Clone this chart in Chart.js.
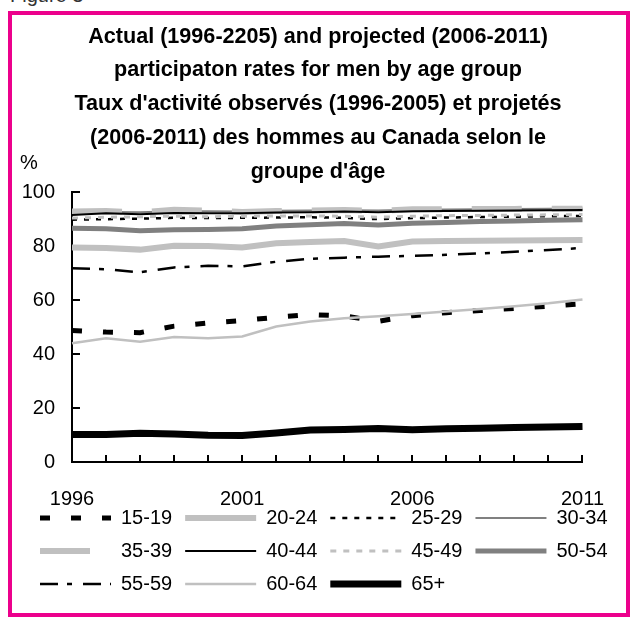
<!DOCTYPE html>
<html>
<head>
<meta charset="utf-8">
<script src="https://cdn.jsdelivr.net/npm/chart.js@4.4.1/dist/chart.umd.min.js"></script>
<style>
    html, body { margin: 0; padding: 0; background: #ffffff; }
    #page { position: relative; width: 636px; height: 622px; overflow: hidden; }
    #fig { position: absolute; left: 10px; top: -16px; font: 20px "Liberation Sans", Arial, sans-serif; color: #333; }
    #frame { position: absolute; left: 8px; top: 11px; width: 622px; height: 606px;
             box-sizing: border-box; border: 4px solid #ec008c; }
    #wrap { position: absolute; left: 0; top: 0; width: 636px; height: 622px; }
</style>
</head>
<body>
<div id="page">
    <div id="fig">Figure 3</div>
    <div id="frame"></div>
    <div id="wrap"><canvas id="chart"></canvas></div>
</div>
<script>
// --- Datos ---
const years = ['1996', '1997', '1998', '1999', '2000', '2001', '2002', '2003',
               '2004', '2005', '2006', '2007', '2008', '2009', '2010', '2011'];
const xTickLabels = ['1996', '2001', '2006', '2011'];
const yTicks = [0, 20, 40, 60, 80, 100];

const ageGroups = ['15-19', '20-24', '25-29', '30-34', '35-39', '40-44',
                   '45-49', '50-54', '55-59', '60-64', '65+'];

const rate15_19 = [48.8, 48.2, 48.0, 50.4, 51.6, 52.5, 53.7, 54.7, 54.2, 52.2, 54.3, 55.4, 56.2, 57.0, 57.8, 58.7];
const rate20_24 = [79.6, 79.4, 78.8, 80.2, 80.1, 79.6, 81.2, 81.6, 82.0, 80.0, 81.8, 82.0, 82.1, 82.2, 82.3, 82.4];
const rate25_29 = [89.9, 90.1, 90.3, 90.6, 90.5, 90.6, 90.7, 90.8, 90.6, 90.1, 90.5, 90.7, 90.9, 91.0, 91.2, 91.3];
const rate30_34 = [92.6, 92.8, 92.7, 93.0, 93.0, 92.9, 93.2, 93.3, 93.4, 93.3, 93.6, 93.7, 93.8, 93.9, 94.0, 94.1];
const rate35_39 = [92.9, 93.1, 92.6, 93.6, 93.3, 92.8, 93.1, 93.3, 93.5, 93.2, 93.8, 93.8, 93.9, 93.9, 94.0, 94.0];
const rate40_44 = [91.6, 92.3, 91.9, 92.4, 92.3, 92.3, 92.6, 92.7, 92.9, 92.7, 93.0, 93.1, 93.2, 93.3, 93.4, 93.5];
const rate45_49 = [90.5, 90.8, 91.0, 91.2, 91.0, 91.2, 91.3, 91.3, 91.2, 90.8, 91.2, 91.4, 91.5, 91.6, 91.7, 91.8];
const rate50_54 = [86.7, 86.5, 85.8, 86.2, 86.3, 86.5, 87.6, 88.0, 88.5, 87.9, 88.6, 88.9, 89.2, 89.4, 89.7, 89.9];
const rate55_59 = [71.9, 71.5, 70.4, 72.2, 72.8, 72.6, 74.3, 75.4, 75.8, 76.2, 76.5, 76.9, 77.4, 78.0, 78.7, 79.4];
const rate60_64 = [44.1, 45.9, 44.6, 46.4, 45.9, 46.6, 50.3, 52.1, 53.3, 54.1, 54.9, 55.8, 56.8, 57.8, 58.9, 60.3];
const rate65plus = [10.2, 10.2, 10.7, 10.4, 9.9, 9.8, 10.8, 11.9, 12.1, 12.4, 12.0, 12.3, 12.5, 12.8, 13.0, 13.2];

const seriesValues = [rate15_19, rate20_24, rate25_29, rate30_34, rate35_39, rate40_44,
                      rate45_49, rate50_54, rate55_59, rate60_64, rate65plus];

// --- Estilo de cada serie (color, grosor, guiones) ---
const LIGHT = '#c0c0c0';
const MID = '#808080';
const seriesStyles = [
    { color: '#000000', width: 5, dash: [10, 21] },
    { color: LIGHT, width: 6, dash: [] },
    { color: '#000000', width: 2.5, dash: [5, 7] },
    { color: MID, width: 2, dash: [] },
    { color: LIGHT, width: 6, dash: [50, 30] },
    { color: '#000000', width: 2, dash: [] },
    { color: LIGHT, width: 3, dash: [6, 7] },
    { color: MID, width: 5, dash: [] },
    { color: '#000000', width: 2.5, dash: [18, 9, 5, 11] },
    { color: LIGHT, width: 2.5, dash: [] },
    { color: '#000000', width: 7, dash: [] }
];

const FONT = '"Liberation Sans", Arial, Helvetica, sans-serif';

const datasets = ageGroups.map((label, i) => ({
    label: label,
    data: seriesValues[i],
    borderColor: seriesStyles[i].color,
    backgroundColor: seriesStyles[i].color,
    borderWidth: seriesStyles[i].width,
    borderDash: seriesStyles[i].dash,
    pointRadius: 0,
    tension: 0,
    fill: false,
    order: -i   // como Excel: la última serie queda encima
}));

// "%" encima del eje vertical
const percentLabel = {
    id: 'percentLabel',
    afterDraw(chart) {
        const ctx = chart.ctx;
        ctx.save();
        ctx.font = '20px ' + FONT;
        ctx.fillStyle = '#000';
        ctx.textAlign = 'left';
        ctx.textBaseline = 'middle';
        ctx.fillText('%', 20, 163);
        ctx.restore();
    }
};

// la leyenda va pegada a las etiquetas de años, como en el original
const legendNudge = {
    id: 'legendNudge',
    afterLayout(chart) {
        const lg = chart.legend;
        lg.top -= 17; lg.bottom -= 17;
        lg.left += 7; lg.right += 7;
    }
};

new Chart(document.getElementById('chart'), {
    type: 'line',
    data: { labels: years, datasets: datasets },
    plugins: [percentLabel, legendNudge],
    options: {
        responsive: true,
        maintainAspectRatio: false,
        animation: false,
        events: [],
        layout: { padding: { left: 20, right: 20, top: 12, bottom: 1 } },
        plugins: {
            title: {
                display: true,
                text: ['Actual (1996-2205) and projected (2006-2011)',
                       'participaton rates for men by age group',
                       "Taux d'activité observés (1996-2005) et projetés",
                       "(2006-2011) des hommes au Canada selon le",
                       "groupe d'âge"],
                color: '#000',
                font: { family: FONT, size: 21.6, weight: 'bold', lineHeight: 1.56 },
                padding: { top: 8, bottom: 4 }
            },
            legend: {
                position: 'bottom',
                align: 'start',
                labels: {
                    usePointStyle: true,
                    pointStyle: 'line',
                    pointStyleWidth: 71,
                    padding: 13,
                    color: '#000',
                    font: { family: FONT, size: 20 },
                    // guiones y grosor de la propia serie en la muestra
                    generateLabels: (chart) => {
                        const items = Chart.defaults.plugins.legend.labels.generateLabels(chart);
                        items.forEach(item => {
                            const ds = chart.data.datasets[item.datasetIndex];
                            item.lineDash = ds.borderDash;
                            item.lineWidth = ds.borderWidth;
                            item.strokeStyle = ds.borderColor;
                            item.fillStyle = ds.borderColor;
                        });
                        return items;
                    },
                    sort: (a, b) => a.datasetIndex - b.datasetIndex
                }
            },
            tooltip: { enabled: false }
        },
        scales: {
            x: {
                grid: { drawOnChartArea: false, color: '#000', lineWidth: 2, tickLength: -7 },
                border: { color: '#000', width: 2 },
                ticks: {
                    autoSkip: false,
                    maxRotation: 0,
                    padding: 32,
                    color: '#000',
                    font: { family: FONT, size: 20 },
                    callback: (value, index) => xTickLabels.includes(years[index]) ? years[index] : ''
                },
                afterFit: (scale) => { scale.height = 50; }
            },
            y: {
                min: 0,
                max: 100,
                grid: { drawOnChartArea: false, color: '#000', lineWidth: 2, tickLength: -8 },
                border: { color: '#000', width: 2 },
                ticks: { padding: 25, color: '#000', font: { family: FONT, size: 20 } },
                afterBuildTicks: (scale) => { scale.ticks = yTicks.map(v => ({ value: v })); },
                afterFit: (scale) => { scale.width = 52; }
            },
            // eje fantasma a la derecha para dejar el margen del gráfico
            yRight: {
                position: 'right',
                display: true,
                grid: { display: false },
                border: { display: false },
                ticks: { display: false },
                afterFit: (scale) => { scale.width = 12; }
            }
        }
    }
});
</script>
</body>
</html>
